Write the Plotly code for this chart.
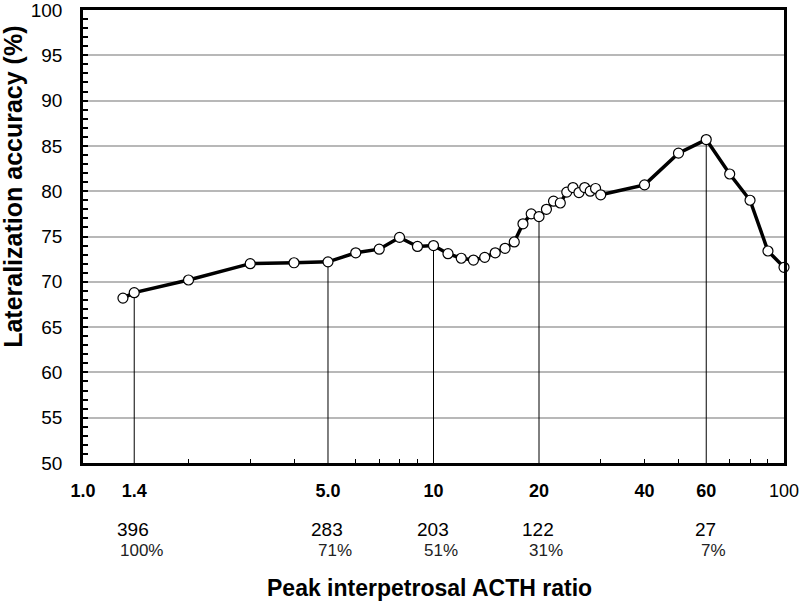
import math
import plotly.graph_objects as go

# peak interpetrosal ACTH ratio threshold vs lateralization accuracy
ratio = [1.3, 1.4, 2, 3, 4, 5, 6, 7, 8, 9, 10, 11, 12, 13, 14, 15, 16, 17, 18, 19,
         20, 21, 22, 23, 24, 25, 26, 27, 28, 29, 30, 40, 50, 60, 70, 80, 90, 100]
accuracy = [68.2, 68.8, 70.2, 72.0, 72.1, 72.2, 73.2, 73.6, 74.9, 73.9, 74.0, 73.1,
            72.6, 72.4, 72.7, 73.2, 73.7, 74.4, 76.4, 77.5, 77.2, 78.0, 78.9, 78.7,
            79.9, 80.4, 79.85, 80.4, 80.0, 80.3, 79.6, 80.7, 84.2, 85.7, 81.9, 79.0,
            73.4, 71.6]

# thresholds with patient counts shown under the axis
cut_ratio = [1.4, 5, 10, 20, 60]
cut_n = ["396", "283", "203", "122", "27"]
cut_pct = ["100%", "71%", "51%", "31%", "7%"]

x_tickvals = [1, 1.4, 5, 10, 20, 40, 60, 100]
x_ticktext = ["<b>1.0</b>", "<b>1.4</b>", "<b>5.0</b>", "<b>10</b>", "<b>20</b>",
              "<b>40</b>", "<b>60</b>", "100"]
x_minor = [2, 3, 4, 6, 7, 8, 9, 30, 40, 50, 70, 80, 90]

FONT = "Liberation Sans, Arial, sans-serif"

fig = go.Figure()

# vertical drop lines from the selected thresholds
for c in cut_ratio:
    acc = accuracy[ratio.index(c)]
    fig.add_trace(go.Scatter(
        x=[c, c], y=[50, acc], mode="lines",
        line=dict(color="black", width=1),
        hoverinfo="skip", showlegend=False
    ))

fig.add_trace(go.Scatter(
    x=ratio, y=accuracy, mode="lines+markers",
    line=dict(color="black", width=3.5),
    marker=dict(size=10, color="white", line=dict(color="black", width=1.2)),
    showlegend=False, cliponaxis=False
))

annotations = []
for c, n, p in zip(cut_ratio, cut_n, cut_pct):
    # annotation x on a log axis is given in log10 units
    annotations.append(dict(
        x=math.log10(c), y=0, xref="x", yref="paper", text=n, showarrow=False,
        yanchor="middle", yshift=-66, xshift=-1,
        font=dict(family=FONT, size=19, color="black")
    ))
    annotations.append(dict(
        x=math.log10(c), y=0, xref="x", yref="paper", text=p, showarrow=False,
        yanchor="middle", yshift=-87, xshift=7,
        font=dict(family=FONT, size=17, color="#222222")
    ))

annotations.append(dict(
    x=0.495, y=0, xref="paper", yref="paper", yanchor="middle", yshift=-125,
    text="<b>Peak interpetrosal ACTH ratio</b>", showarrow=False,
    font=dict(family=FONT, size=23, color="black")
))
annotations.append(dict(
    x=-0.101, y=0.61, xref="paper", yref="paper", textangle=-90,
    text="<b>Lateralization accuracy (%)</b>", showarrow=False,
    xanchor="center", yanchor="middle",
    font=dict(family=FONT, size=25, color="black")
))

fig.update_layout(
    width=800, height=606,
    margin=dict(l=83, r=16, t=10, b=143),
    paper_bgcolor="white", plot_bgcolor="white",
    font=dict(family=FONT, color="black"),
    annotations=annotations,
    xaxis=dict(
        type="log", range=[0, 2], automargin=False,
        tickvals=x_tickvals, ticktext=x_ticktext,
        ticks="", showgrid=False, zeroline=False,
        showline=True, linecolor="black", linewidth=2.5, mirror=True,
        tickfont=dict(family=FONT, size=18, color="black"),
        ticklabelstandoff=10, ticklabeloverflow="allow",
        minor=dict(tickvals=x_minor, ticks="inside", ticklen=4,
                   tickcolor="black", tickwidth=1, showgrid=False)
    ),
    yaxis=dict(
        range=[50, 100], dtick=5, tick0=50, automargin=False,
        ticks="inside", ticklen=5, tickcolor="black", tickwidth=1.5,
        showgrid=True, gridcolor="#b8b8b8", gridwidth=1.5, zeroline=False,
        showline=True, linecolor="black", linewidth=2.5, mirror=True,
        tickfont=dict(family=FONT, size=19, color="black"),
        ticklabelstandoff=14, ticklabeloverflow="allow",
        minor=dict(dtick=1, ticks="inside", ticklen=5, tickcolor="black",
                   tickwidth=1.5, showgrid=False)
    )
)

# drop the default 8px body margin so the 800x606 figure fills the window
fig.write_html("out.html", config={"displayModeBar": False},
               post_script="document.body.style.margin='0';")
